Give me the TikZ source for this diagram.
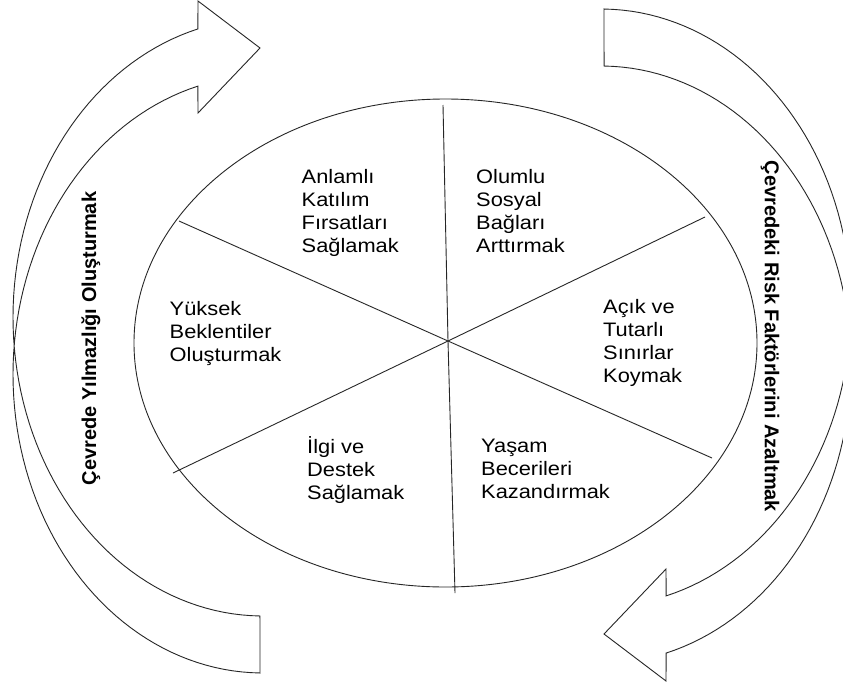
\documentclass[tikz,border=0pt]{standalone}
\usepackage{fontspec}
\setmainfont{Liberation Sans}
\newfontfamily\innerfont[FakeStretch=1.12]{Liberation Sans}
\tikzset{
  outline/.style={draw=black!85, line width=0.9pt, line join=miter},
  divider/.style={draw=black!85, line width=0.9pt},
  segtext/.style={anchor=north west, inner sep=0pt, align=left,
    font=\innerfont\fontsize{19.5}{23}\selectfont},
  sidetext/.style={inner sep=0pt, font=\bfseries\fontsize{20}{24}\selectfont}
}
\begin{document}
\begin{tikzpicture}[x=1pt,y=-1pt]
\useasboundingbox (0,0) rectangle (843,683);
\clip (0,0) rectangle (843,683);
\fill[white] (0,0) rectangle (843,683);

% left curved arrow (head at top pointing right)
\def\arrowpath{
  plot[domain=254.9:90.7, samples=80] ({263+250*cos(\x)},{317.3+298.7*sin(\x)})
  -- (260,673)
  -- plot[domain=90.7:254.9, samples=80] ({263+250*cos(\x)},{374.4+298.6*sin(\x)})
  -- (198,113) -- (260,48) -- (198,1) -- cycle}
\draw[outline] \arrowpath;
% right curved arrow (point-reflected copy)
\begin{scope}[rotate around={180:(432,341)}]
\draw[outline] \arrowpath;
\end{scope}

% central ellipse and dividers
\draw[divider] (445.5,343) ellipse [x radius=311.5pt, y radius=244pt];
\coordinate (c) at (448,341);
\coordinate (v1) at (443,105);
\coordinate (v2) at (455,593);
\coordinate (d1) at (179,221);
\coordinate (d2) at (712,458);
\coordinate (e1) at (173,473);
\coordinate (e2) at (705,217);
\draw[divider] (v1) -- (c) -- (v2);
\draw[divider] (d1) -- (c) -- (d2);
\draw[divider] (e1) -- (c) -- (e2);

% segment texts
\node[segtext] (t1) at (301.5,169) {Anlamlı\\Katılım\\Fırsatları\\Sağlamak};
\node[segtext] (t2) at (476,169) {Olumlu\\Sosyal\\Bağları\\Arttırmak};
\node[segtext] (t3) at (169.5,301) {Yüksek\\Beklentiler\\Oluşturmak};
\node[segtext] (t4) at (603,299) {Açık ve\\Tutarlı\\Sınırlar\\Koymak};
\node[segtext] (t5) at (307,436) {İlgi ve\\Destek\\Sağlamak};
\node[segtext] (t6) at (481,439) {Yaşam\\Becerileri\\Kazandırmak};

% side labels
\node[sidetext, rotate=90] (l) at (91,338.5) {Çevrede Yılmazlığı Oluşturmak};
\node[sidetext, rotate=-90] (r) at (770,336.5) {Çevredeki Risk Faktörlerini Azaltmak};
\end{tikzpicture}
\end{document}
